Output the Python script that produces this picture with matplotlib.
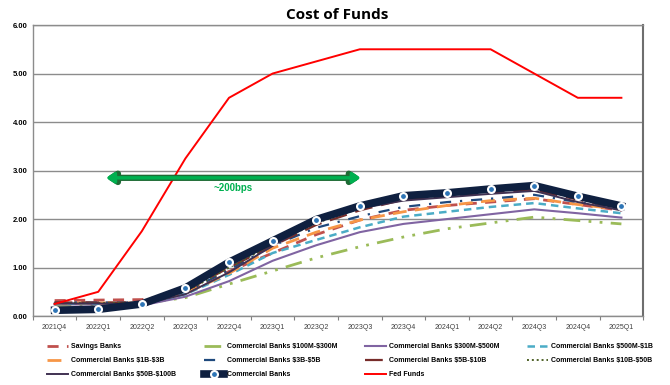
import matplotlib.pyplot as plt
import numpy as np

# quarters on the x axis
quarters = ["2021Q4", "2022Q1", "2022Q2", "2022Q3", "2022Q4", "2023Q1", "2023Q2",
            "2023Q3", "2023Q4", "2024Q1", "2024Q2", "2024Q3", "2024Q4", "2025Q1"]

savings_banks = [0.32, 0.33, 0.34, 0.48, 0.92, 1.30, 1.68, 1.98, 2.18, 2.28, 2.35, 2.42, 2.30, 2.18]
cb_100m_300m = [0.22, 0.23, 0.26, 0.38, 0.66, 0.93, 1.20, 1.43, 1.63, 1.80, 1.92, 2.04, 1.97, 1.90]
cb_300m_500m = [0.24, 0.24, 0.22, 0.40, 0.72, 1.14, 1.46, 1.73, 1.90, 2.00, 2.10, 2.20, 2.12, 2.03]
cb_500m_1b = [0.26, 0.26, 0.25, 0.45, 0.85, 1.30, 1.57, 1.83, 2.05, 2.15, 2.25, 2.33, 2.22, 2.12]
cb_1b_3b = [0.27, 0.27, 0.27, 0.47, 0.88, 1.40, 1.73, 1.98, 2.15, 2.28, 2.38, 2.43, 2.30, 2.20]
cb_3b_5b = [0.28, 0.28, 0.28, 0.50, 0.95, 1.45, 1.82, 2.06, 2.25, 2.35, 2.42, 2.50, 2.35, 2.22]
cb_5b_10b = [0.28, 0.28, 0.28, 0.52, 1.00, 1.45, 1.88, 2.18, 2.40, 2.48, 2.55, 2.60, 2.40, 2.22]
cb_10b_50b = [0.27, 0.27, 0.27, 0.50, 1.00, 1.48, 1.92, 2.22, 2.42, 2.50, 2.58, 2.65, 2.45, 2.25]
cb_50b_100b = [0.26, 0.26, 0.24, 0.45, 0.90, 1.45, 1.95, 2.22, 2.38, 2.45, 2.52, 2.58, 2.35, 2.18]
commercial_banks = [0.12, 0.14, 0.25, 0.58, 1.11, 1.55, 1.99, 2.27, 2.48, 2.54, 2.62, 2.69, 2.47, 2.27]
fed_funds = [0.25, 0.50, 1.75, 3.25, 4.50, 5.00, 5.25, 5.50, 5.50, 5.50, 5.50, 5.00, 4.50, 4.50]

arrow_start, arrow_end, arrow_level = 1.18, 7.02, 2.85
arrow_text = "~200bps"

x = np.arange(len(quarters))

fig = plt.figure(figsize=(6.7, 3.85), dpi=100)
ax = fig.add_axes([0.049, 0.179, 0.911, 0.756])

ax.set_ylim(0, 6)
ax.set_xlim(-0.5, len(quarters) - 0.5)
ax.set_yticks(np.arange(0, 7, 1))
ax.set_yticklabels(["%.2f" % v for v in np.arange(0, 7, 1)], fontsize=5.5,
                   family="Liberation Sans", fontweight="bold")
ax.yaxis.grid(True, color="#8C8C8C", linewidth=1)
ax.set_axisbelow(True)
ax.tick_params(axis="y", length=0, pad=4)

# ticks between categories, labels in the middle
ax.set_xticks(np.arange(-0.5, len(quarters), 1))
ax.set_xticklabels([])
ax.set_xticks(x, minor=True)
ax.set_xticklabels(quarters, minor=True, fontsize=5, family="Liberation Sans", color="#404040")
ax.tick_params(axis="x", which="major", length=3, color="#808080", direction="out")
ax.tick_params(axis="x", which="minor", length=0, pad=6)
for s in ax.spines.values():
    s.set_color("#8C8C8C")
    s.set_linewidth(1)
ax.spines["right"].set_color("#6E6E6E")
ax.spines["right"].set_linewidth(1.5)

h = {}
h["sb"], = ax.plot(x, savings_banks, color="#C0504D", lw=2, ls=(0, (4, 3)), label="Savings Banks")
h["c1"], = ax.plot(x, cb_100m_300m, color="#9BBB59", lw=2, ls=(0, (6, 3, 1, 3, 1, 3)),
                   label="Commercial Banks \\$100M-\\$300M")
h["c2"], = ax.plot(x, cb_300m_500m, color="#8064A2", lw=1.5, label="Commercial Banks \\$300M-\\$500M")
h["c3"], = ax.plot(x, cb_500m_1b, color="#4BACC6", lw=1.8, ls=(0, (3, 2)), label="Commercial Banks \\$500M-\\$1B")
h["c4"], = ax.plot(x, cb_1b_3b, color="#F79646", lw=2, ls=(0, (5, 3)), label="Commercial Banks \\$1B-\\$3B")
h["c5"], = ax.plot(x, cb_3b_5b, color="#1F497D", lw=1.6, ls=(0, (5, 4, 1, 4)), label="Commercial Banks \\$3B-\\$5B")
h["c6"], = ax.plot(x, cb_5b_10b, color="#772C2A", lw=1.6, ls=(0, (8, 4)), label="Commercial Banks \\$5B-\\$10B")
h["c7"], = ax.plot(x, cb_10b_50b, color="#4F6228", lw=1.4, ls=(0, (1, 1.5)), label="Commercial Banks \\$10B-\\$50B")
h["c8"], = ax.plot(x, cb_50b_100b, color="#403152", lw=1.4, label="Commercial Banks \\$50B-\\$100B")
h["cb"], = ax.plot(x, commercial_banks, color="#0F2040", lw=5.5, solid_joinstyle="round",
                   marker="o", markersize=5, markerfacecolor="#2E75B6",
                   markeredgecolor="white", markeredgewidth=1.5, label="Commercial Banks")
h["ff"], = ax.plot(x, fed_funds, color="#FF0000", lw=1.4, label="Fed Funds")

# double-headed arrow (dark outline, bright fill) and its label
for lw, col in [(4.5, "#1E6B35"), (2.5, "#00B050")]:
    ax.annotate("", xy=(arrow_start, arrow_level), xytext=(arrow_end, arrow_level),
                arrowprops=dict(arrowstyle="<|-|>,head_length=0.45,head_width=0.3", color=col,
                                lw=lw, shrinkA=0, shrinkB=0))
ax.text((arrow_start + arrow_end) / 2, arrow_level - 0.2, arrow_text, color="#00B050",
        fontsize=7, fontweight="bold", ha="center", va="center", family="Liberation Sans")

fig.text(0.503, 0.962, "Cost of Funds", ha="center", va="center", fontsize=11,
         fontweight="bold", family="Open Sans")

order = ["sb", "c4", "c8", "c1", "c5", "cb", "c2", "c6", "ff", "c3", "c7"]
leg = fig.legend([h[k] for k in order], [h[k].get_label() for k in order],
                 loc="upper left", bbox_to_anchor=(0.066, 0.116), ncol=4, frameon=False,
                 prop={"family": "Liberation Sans", "size": 5, "weight": "bold"},
                 handlelength=3, columnspacing=4.0, labelspacing=1.0, handletextpad=0.4,
                 borderaxespad=0)

fig.savefig("out.png", dpi=100)
